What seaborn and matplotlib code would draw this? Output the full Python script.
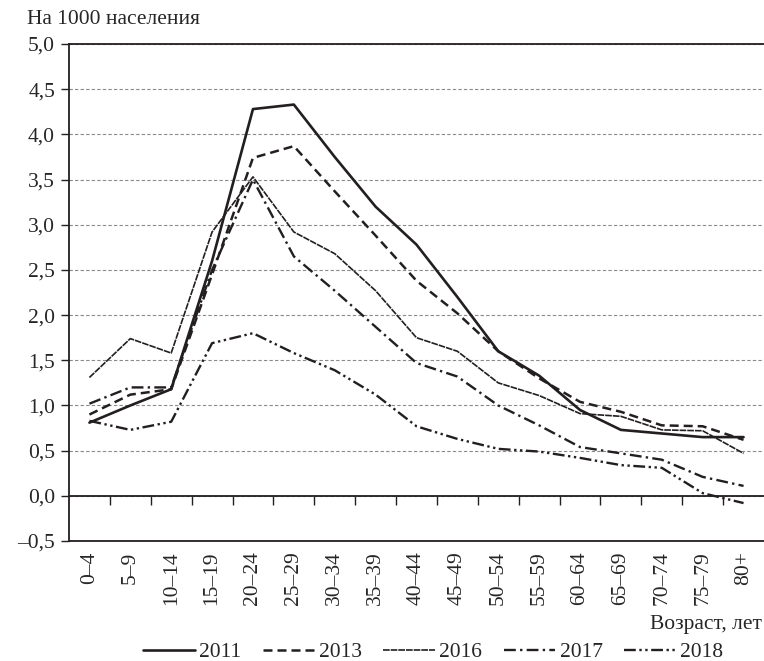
import numpy as np
import pandas as pd
import matplotlib
matplotlib.use("Agg")
import matplotlib.pyplot as plt
import seaborn as sns

sns.set_style("white")
plt.rcParams["font.family"] = ["Liberation Serif", "DejaVu Serif"]
plt.rcParams["font.size"] = 15.5

# ---------- data ----------
ages = ["0–4", "5–9", "10–14", "15–19", "20–24", "25–29", "30–34", "35–39",
        "40–44", "45–49", "50–54", "55–59", "60–64", "65–69", "70–74", "75–79", "80+"]
years = ["2011", "2013", "2016", "2017", "2018"]
rate_2011 = [0.81, 1.00, 1.18, 2.60, 4.28, 4.33, 3.75, 3.20, 2.78, 2.20, 1.60, 1.33, 0.95, 0.73, 0.69, 0.65, 0.65]
rate_2013 = [0.90, 1.12, 1.18, 2.45, 3.74, 3.87, 3.37, 2.88, 2.38, 2.02, 1.60, 1.30, 1.04, 0.93, 0.78, 0.77, 0.62]
rate_2016 = [1.31, 1.74, 1.58, 2.92, 3.53, 2.92, 2.68, 2.27, 1.75, 1.60, 1.25, 1.11, 0.91, 0.88, 0.73, 0.72, 0.47]
rate_2017 = [1.02, 1.20, 1.20, 2.50, 3.50, 2.65, 2.27, 1.87, 1.47, 1.32, 1.00, 0.78, 0.54, 0.47, 0.40, 0.21, 0.11]
rate_2018 = [0.83, 0.73, 0.82, 1.69, 1.80, 1.58, 1.39, 1.12, 0.77, 0.63, 0.52, 0.49, 0.42, 0.34, 0.31, 0.03, -0.08]
y_ticks = [-0.5, 0.0, 0.5, 1.0, 1.5, 2.0, 2.5, 3.0, 3.5, 4.0, 4.5, 5.0]
y_labels = [f"{v:.1f}".replace(".", ",").replace("-", "–") for v in y_ticks]

series = dict(zip(years, [rate_2011, rate_2013, rate_2016, rate_2017, rate_2018]))
df = pd.concat([
    pd.DataFrame({"pos": range(len(ages)), "age": ages, "rate": vals, "year": yr})
    for yr, vals in series.items()
], ignore_index=True)

INK = "#231f20"
styles = {
    "2011": dict(linewidth=1.9, linestyle="-"),
    "2013": dict(linewidth=1.8, linestyle=(0, (3.6, 2.0))),
    "2016": dict(linewidth=1.2, linestyle=(0, (4, 0.6))),
    "2017": dict(linewidth=1.7, linestyle=(0, (5, 1.8, 1, 1.8))),
    "2018": dict(linewidth=1.7, linestyle=(0, (5, 1.5, 1, 1.5, 1, 1.5))),
}

fig, ax = plt.subplots(figsize=(7.64, 6.61), dpi=100)
fig.subplots_adjust(left=0.0903, right=1.0, top=0.9334, bottom=0.1815)

for yr in years:
    sns.lineplot(data=df[df["year"] == yr], x="pos", y="rate", ax=ax, color=INK,
                 label=yr, sort=False, errorbar=None, zorder=3, **styles[yr])

ax.set_xlim(-0.5, len(ages) - 0.5)
ax.set_ylim(-0.5, 5.0)
ax.set_yticks(y_ticks)
ax.set_yticklabels(y_labels)
ax.tick_params(axis="y", direction="out", length=6, width=1, color=INK, pad=4, left=True)
ax.set_xlabel("")
ax.set_ylabel("")

# x axis line sits at zero with ticks between age groups; labels below the frame
ax.spines["bottom"].set_position(("data", 0))
ax.set_xticks(range(len(ages)))
ax.set_xticklabels(ages, rotation=90, va="top", ha="center")
ax.set_xticks(np.arange(0.5, len(ages) - 1, 1), minor=True)
ax.tick_params(axis="x", which="major", length=0, pad=40)
ax.tick_params(axis="x", which="minor", bottom=True, direction="out",
               length=6.5, width=1, color=INK)
ax.axhline(-0.5, color=INK, linewidth=1.3, clip_on=False, zorder=2)

ax.grid(axis="y", linestyle=(0, (3, 2)), color="#8a8a8a", linewidth=0.8, zorder=0)
ax.grid(axis="x", visible=False)
for side in ["left", "bottom", "top"]:
    ax.spines[side].set_color(INK)
    ax.spines[side].set_linewidth(1.3)
ax.spines["right"].set_visible(False)

handles, labels = ax.get_legend_handles_labels()
ax.get_legend().remove()
fig.legend(handles, labels, loc="center", bbox_to_anchor=(0.567, 0.013), ncol=5,
           frameon=False, handlelength=2.4, handletextpad=0.2, columnspacing=1.0,
           fontsize=15.5)

fig.text(0.035, 0.970, "На 1000 населения", ha="left", va="center")
fig.text(0.997, 0.0545, "Возраст, лет", ha="right", va="center")

plt.savefig("out.png", dpi=100)
plt.close()
